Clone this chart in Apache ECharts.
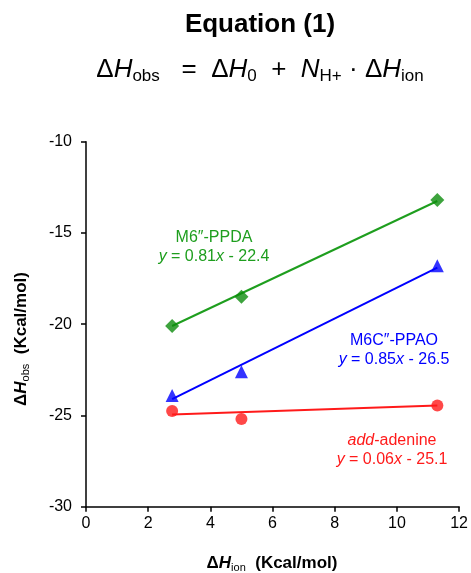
<!DOCTYPE html>
<html>
<head>
<meta charset="utf-8">
<script src="https://cdn.jsdelivr.net/npm/echarts@6/dist/echarts.min.js"></script>
<style>
html,body{margin:0;padding:0;background:#fff;}
#main{width:471px;height:573px;}
</style>
</head>
<body>
<div id="main"></div>
<script>
// measured points, x = dH ion, y = dH obs
var ppda = [[2.77, -20.1], [5.0, -18.5], [11.3, -13.2]];
var ppao = [[2.77, -23.9], [5.0, -22.6], [11.3, -16.8]];
var adenine = [[2.77, -24.75], [5.0, -25.2], [11.3, -24.45]];
// fit line ends
var ppdaFit = [[2.77, -20.1], [11.3, -13.25]];
var ppaoFit = [[2.77, -24.1], [11.3, -16.9]];
var adenineFit = [[2.77, -24.95], [11.3, -24.45]];
var xTicks = [0, 2, 4, 6, 8, 10, 12];
var yTicks = [-30, -25, -20, -15, -10];

var FONT = 'Liberation Sans, Arial, sans-serif';
var GREEN = '#1e9e1e', BLUE = '#0000ff', RED = '#ff1a1a';

var myChart = echarts.init(document.getElementById('main'));

function lbl(x, y, name, eq, color, italicName) {
	var st = {fontFamily: FONT, fontSize: 16, fill: color, lineHeight: 19};
	return {
		type: 'text', x: x, y: y,
		style: {
			text: (italicName ? '{i|add}{n|-adenine}' : '{n|' + name + '}') +
				'\n{i|y}{n| = ' + eq[0] + '}{i|x}{n| - ' + eq[1] + '}',
			align: 'center', verticalAlign: 'middle',
			rich: {
				n: st,
				i: echarts.util.extend({fontStyle: 'italic'}, st)
			}
		}
	};
}

var subRich = function (size, sub) {
	return {
		n: {fontFamily: FONT, fontSize: size, fill: '#000', lineHeight: size + 4},
		b: {fontFamily: FONT, fontSize: size, fill: '#000', fontWeight: 'bold', lineHeight: size + 4},
		i: {fontFamily: FONT, fontSize: size, fill: '#000', fontStyle: 'italic', lineHeight: size + 4},
		bi: {fontFamily: FONT, fontSize: size, fill: '#000', fontStyle: 'italic', fontWeight: 'bold', lineHeight: size + 4},
		s: {fontFamily: FONT, fontSize: sub, fill: '#000', lineHeight: sub, verticalAlign: 'bottom'}
	};
};

var option = {
	animation: false,
	backgroundColor: '#fff',
	grid: {left: 86, right: 11, top: 141.7, bottom: 66.3},
	xAxis: {
		type: 'value', min: 0, max: 12, interval: 2,
		axisLine: {lineStyle: {color: '#000', width: 1.5}},
		axisTick: {show: true, length: 5, lineStyle: {color: '#000', width: 1.5}},
		axisLabel: {color: '#000', fontFamily: FONT, fontSize: 16, margin: 9,
			formatter: function (v) { return xTicks.indexOf(v) >= 0 ? String(v) : ''; }},
		splitLine: {show: false}
	},
	yAxis: {
		type: 'value', min: -30, max: -10, interval: 5,
		axisLine: {onZero: false, lineStyle: {color: '#000', width: 1.5}},
		axisTick: {show: true, length: 5, lineStyle: {color: '#000', width: 1.5}},
		axisLabel: {color: '#000', fontFamily: FONT, fontSize: 16, margin: 14,
			formatter: function (v) { return yTicks.indexOf(v) >= 0 ? String(v) : ''; }},
		splitLine: {show: false}
	},
	series: [
		{type: 'line', data: ppdaFit, symbol: 'none', lineStyle: {color: GREEN, width: 2}, z: 2},
		{type: 'line', data: ppaoFit, symbol: 'none', lineStyle: {color: BLUE, width: 2}, z: 2},
		{type: 'line', data: adenineFit, symbol: 'none', lineStyle: {color: RED, width: 2}, z: 2},
		{type: 'scatter', data: ppda, symbol: 'diamond', symbolSize: 14, itemStyle: {color: '#0c8c0c'}, z: 3},
		{type: 'scatter', data: ppao, symbol: 'triangle', symbolSize: 13, itemStyle: {color: BLUE}, z: 3},
		{type: 'scatter', data: adenine, symbol: 'circle', symbolSize: 12, itemStyle: {color: RED}, z: 3}
	],
	graphic: [
		{type: 'text', x: 260, y: 25, style: {text: 'Equation (1)', fontFamily: FONT, fontSize: 26, fontWeight: 'bold', fill: '#000', align: 'center', verticalAlign: 'middle'}},
		{type: 'text', x: 260, y: 70, style: {
			text: '{n|Δ}{i|H}{s|obs}{n|   =  Δ}{i|H}{s|0}{n|  +  }{i|N}{s|H+}{n| · Δ}{i|H}{s|ion}',
			align: 'center', verticalAlign: 'middle', rich: subRich(26, 17)}},
		{type: 'text', x: 21, y: 339, rotation: Math.PI / 2, style: {
			text: '{b|Δ}{bi|H}{s|obs}{b|  (Kcal/mol)}',
			align: 'center', verticalAlign: 'middle', rich: subRich(17, 11)}},
		{type: 'text', x: 272, y: 563, style: {
			text: '{b|Δ}{bi|H}{s|ion}{b|  (Kcal/mol)}',
			align: 'center', verticalAlign: 'middle', rich: subRich(17, 11)}},
		lbl(214, 247, 'M6\u2033-PPDA', ['0.81', '22.4'], GREEN, false),
		lbl(394, 350, 'M6C\u2033-PPAO', ['0.85', '26.5'], BLUE, false),
		lbl(392, 450, '', ['0.06', '25.1'], RED, true)
	]
};

myChart.setOption(option);
</script>
</body>
</html>
